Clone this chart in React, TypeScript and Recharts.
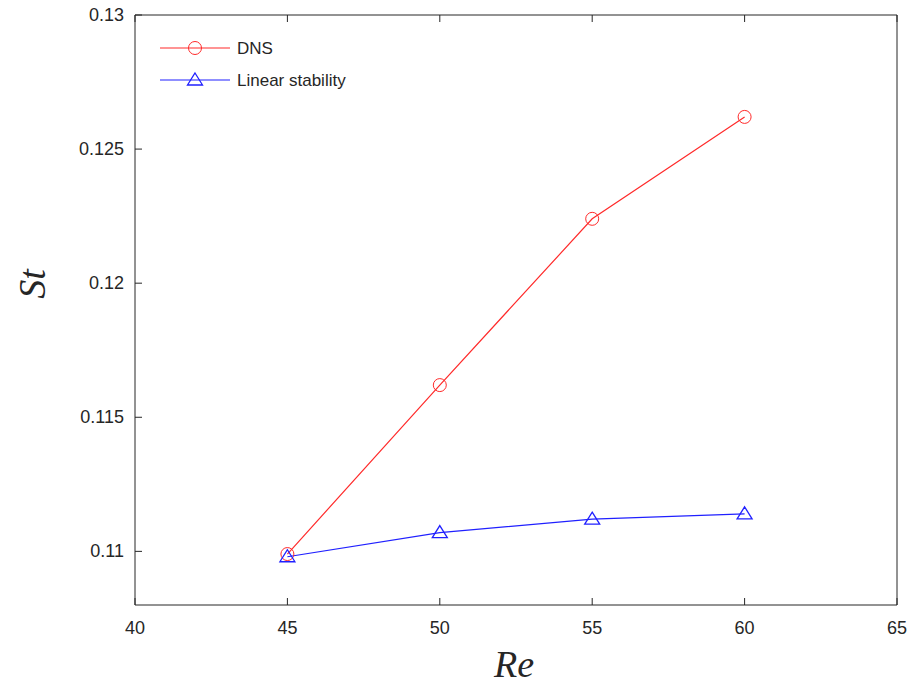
import { LineChart, Line, XAxis, YAxis } from "recharts";

// Strouhal number vs Reynolds number
const reynolds = [45, 50, 55, 60];
const stDns = [0.1099, 0.1162, 0.1224, 0.1262];
const stLinear = [0.1098, 0.1107, 0.1112, 0.1114];
const xTicks = [40, 45, 50, 55, 60, 65];
const yTicks = [0.11, 0.115, 0.12, 0.125, 0.13];
const seriesNames = ["DNS", "Linear stability"];

const AXIS = "#262626";
const RED = "#ff2a2a";
const BLUE = "#2020ff";
const TICK_FONT = "'Liberation Sans', Arial, sans-serif";

const data = reynolds.map((re, i) => ({ re, dns: stDns[i], lin: stLinear[i] }));

const CircleDot = (props: any) => {
  const { cx, cy } = props;
  if (cx == null || cy == null) return null;
  return <circle cx={cx} cy={cy} r={6.5} fill="none" stroke={RED} strokeWidth={1} />;
};

const TriangleDot = (props: any) => {
  const { cx, cy } = props;
  if (cx == null || cy == null) return null;
  return (
    <path
      d={`M${cx},${cy - 7} L${cx + 7.5},${cy + 5} L${cx - 7.5},${cy + 5} Z`}
      fill="none"
      stroke={BLUE}
      strokeWidth={1.3}
    />
  );
};

// ticks drawn inward, matlab style
const BottomTick = ({ x, y, payload }: any) => (
  <g>
    <line x1={x} x2={x} y1={y} y2={y - 7} stroke={AXIS} />
    <text x={x} y={y + 29} textAnchor="middle" fontSize={18} fill={AXIS} fontFamily={TICK_FONT}>
      {payload.value}
    </text>
  </g>
);

const TopTick = ({ x, y }: any) => <line x1={x} x2={x} y1={y} y2={y + 7} stroke={AXIS} />;

const LeftTick = ({ x, y, payload }: any) => (
  <g>
    <line x1={x} x2={x + 7} y1={y} y2={y} stroke={AXIS} />
    <text x={x - 11} y={y + 6} textAnchor="end" fontSize={18} fill={AXIS} fontFamily={TICK_FONT}>
      {String(payload.value)}
    </text>
  </g>
);

const RightTick = ({ x, y }: any) => <line x1={x} x2={x - 7} y1={y} y2={y} stroke={AXIS} />;

export default function App() {
  return (
    <div style={{ position: "absolute", left: 0, top: 0, width: 913, height: 691, background: "#fff" }}>
      <LineChart width={913} height={691} data={data} margin={{ top: 14, right: 15, bottom: 0, left: 0 }}>
        <XAxis
          dataKey="re"
          type="number"
          domain={[40, 65]}
          ticks={xTicks}
          xAxisId="b"
          height={86}
          tickSize={0}
          tickMargin={0}
          tickLine={false}
          stroke={AXIS}
          tick={<BottomTick />}
        />
        <XAxis
          dataKey="re"
          type="number"
          domain={[40, 65]}
          ticks={xTicks}
          xAxisId="t"
          orientation="top"
          height={1}
          tickSize={0}
          tickMargin={0}
          tickLine={false}
          stroke={AXIS}
          tick={<TopTick />}
        />
        <YAxis
          type="number"
          domain={[0.108, 0.13]}
          ticks={yTicks}
          yAxisId="l"
          width={135}
          tickSize={0}
          tickMargin={0}
          tickLine={false}
          stroke={AXIS}
          tick={<LeftTick />}
        />
        <YAxis
          type="number"
          domain={[0.108, 0.13]}
          ticks={yTicks}
          yAxisId="r"
          orientation="right"
          width={1}
          tickSize={0}
          tickMargin={0}
          tickLine={false}
          stroke={AXIS}
          tick={<RightTick />}
        />
        <Line
          xAxisId="b"
          yAxisId="l"
          dataKey="dns"
          name={seriesNames[0]}
          stroke={RED}
          strokeWidth={1.2}
          dot={<CircleDot />}
          isAnimationActive={false}
        />
        <Line
          xAxisId="b"
          yAxisId="l"
          dataKey="lin"
          name={seriesNames[1]}
          stroke={BLUE}
          strokeWidth={1.2}
          dot={<TriangleDot />}
          isAnimationActive={false}
        />
      </LineChart>

      {/* legend */}
      <svg style={{ position: "absolute", left: 150, top: 34 }} width={260} height={60}>
        <line x1={10} x2={80} y1={14} y2={14} stroke={RED} strokeWidth={1.2} />
        <circle cx={45} cy={14} r={6.5} fill="none" stroke={RED} />
        <text x={87} y={20} fontSize={17} fill={AXIS} fontFamily={TICK_FONT}>
          {seriesNames[0]}
        </text>
        <line x1={10} x2={80} y1={46} y2={46} stroke={BLUE} strokeWidth={1.2} />
        <path d="M45,39 L52.5,51 L37.5,51 Z" fill="none" stroke={BLUE} strokeWidth={1.3} />
        <text x={87} y={52} fontSize={17} fill={AXIS} fontFamily={TICK_FONT}>
          {seriesNames[1]}
        </text>
      </svg>

      {/* axis titles */}
      <div
        style={{
          position: "absolute",
          left: 514,
          top: 664,
          transform: "translate(-50%, -50%)",
          fontFamily: "'Liberation Serif', 'DejaVu Serif', serif",
          fontStyle: "italic",
          fontSize: 38,
          color: AXIS,
          whiteSpace: "nowrap",
        }}
      >
        Re
      </div>
      <div
        style={{
          position: "absolute",
          left: 32,
          top: 284,
          transform: "translate(-50%, -50%) rotate(-90deg)",
          fontFamily: "'Liberation Serif', 'DejaVu Serif', serif",
          fontStyle: "italic",
          fontSize: 38,
          color: AXIS,
          whiteSpace: "nowrap",
        }}
      >
        St
      </div>
    </div>
  );
}
